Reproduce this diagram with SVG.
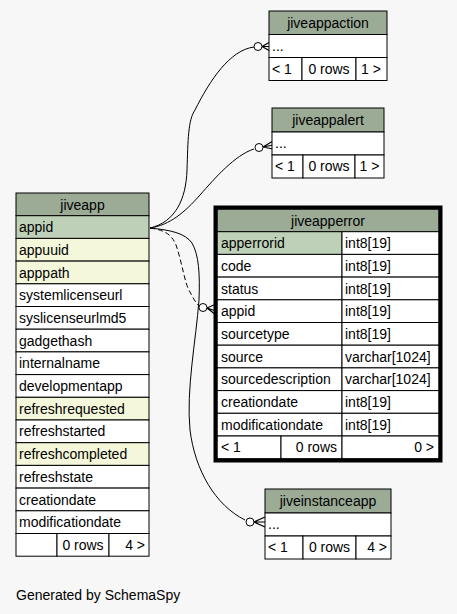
<svg xmlns="http://www.w3.org/2000/svg" width="457" height="614" viewBox="0 0 457 614">
<style>
text{font-family:"Liberation Sans",Arial,sans-serif;font-size:14px;fill:#000}
.c{text-anchor:middle}
.r{text-anchor:end}
rect{stroke:#000;stroke-width:1}
.h{fill:#9bab96}
.pk{fill:#bed1b8}
.ix{fill:#f4f7da}
.w{fill:#fff}
rect.frame{fill:none;stroke:#000;stroke-width:4}
.e{fill:none;stroke:#000;stroke-width:1}
.d{stroke-dasharray:5,3}
.o{fill:#fff;stroke:#000;stroke-width:1}
.cf{fill:none;stroke:#000;stroke-width:1.2}
</style>
<rect x="0" y="0" width="457" height="614" style="fill:#f7f7f7;stroke:none"/>

<g id="connectors">
<path class="e" d="M150,228 C175,222 186,200 187,170 C188,140 188,120 195,110 C210,80 230,50 254,47"/>
<circle class="o" cx="258" cy="46.5" r="4"/>
<path class="cf" d="M262,46.5 L270,42 M262,46.5 L270,46.5 M262,46.5 L270,51"/>

<path class="e" d="M150,228 C170,225 185,212 200,195 C215,178 235,155 254,149"/>
<circle class="o" cx="259" cy="147.5" r="4"/>
<path class="cf" d="M263,147 L273,141 M263,147 L273,145 M263,147 L273,149"/>

<path class="e d" d="M150,228 C165,230 172,235 176,245 C182,262 185,285 190,292 C193,298 196,303 199,306"/>
<circle class="o" cx="203" cy="307.5" r="4"/>
<path class="cf" d="M207,308 L216,304 M207,308 L216,311 M207,308 L216,315"/>

<path class="e" d="M150,228 C170,230 185,233 192,243 C199,255 200,275 199,300 C196,340 186,390 190,430 C195,470 215,505 245,520"/>
<circle class="o" cx="250" cy="522" r="4"/>
<path class="cf" d="M254,522 L265,517 M254,522 L265,522 M254,522 L265,527"/>
</g>

<g id="jiveappaction">
<rect class="h" x="269" y="11" width="118" height="23.5"/>
<text class="c" x="328" y="28">jiveappaction</text>
<rect class="w" x="269" y="34.5" width="118" height="23"/>
<text x="272" y="51">...</text>
<rect class="w" x="269" y="57.5" width="33" height="23"/>
<rect class="w" x="302" y="57.5" width="54" height="23"/>
<rect class="w" x="356" y="57.5" width="31" height="23"/>
<text x="272" y="74">&lt; 1</text>
<text class="c" x="329" y="74">0 rows</text>
<text class="c" x="371" y="74">1 &gt;</text>
</g>

<g id="jiveappalert">
<rect class="h" x="272" y="108" width="112" height="24"/>
<text class="c" x="328" y="125">jiveappalert</text>
<rect class="w" x="272" y="132" width="112" height="23"/>
<text x="275" y="148">...</text>
<rect class="w" x="272" y="155" width="31" height="23"/>
<rect class="w" x="303" y="155" width="52" height="23"/>
<rect class="w" x="355" y="155" width="29" height="23"/>
<text x="275" y="171">&lt; 1</text>
<text class="c" x="329" y="171">0 rows</text>
<text class="c" x="369.5" y="171">1 &gt;</text>
</g>

<g id="jiveapp">
<rect class="h" x="16" y="193" width="133" height="22.7"/>
<text class="c" x="82.5" y="210">jiveapp</text>
<rect class="pk" x="16" y="215.7" width="133" height="22.7"/>
<text x="19" y="232">appid</text>
<rect class="ix" x="16" y="238.4" width="133" height="22.7"/>
<text x="19" y="255">appuuid</text>
<rect class="ix" x="16" y="261.1" width="133" height="22.7"/>
<text x="19" y="277.5">apppath</text>
<rect class="w" x="16" y="283.8" width="133" height="22.7"/>
<text x="19" y="300">systemlicenseurl</text>
<rect class="w" x="16" y="306.5" width="133" height="22.7"/>
<text x="19" y="323">syslicenseurlmd5</text>
<rect class="w" x="16" y="329.2" width="133" height="22.7"/>
<text x="19" y="345.5">gadgethash</text>
<rect class="w" x="16" y="351.9" width="133" height="22.7"/>
<text x="19" y="368">internalname</text>
<rect class="w" x="16" y="374.6" width="133" height="22.7"/>
<text x="19" y="391">developmentapp</text>
<rect class="ix" x="16" y="397.3" width="133" height="22.7"/>
<text x="19" y="413.5">refreshrequested</text>
<rect class="w" x="16" y="420" width="133" height="22.7"/>
<text x="19" y="436">refreshstarted</text>
<rect class="ix" x="16" y="442.7" width="133" height="22.7"/>
<text x="19" y="459">refreshcompleted</text>
<rect class="w" x="16" y="465.4" width="133" height="22.7"/>
<text x="19" y="481.5">refreshstate</text>
<rect class="w" x="16" y="488.1" width="133" height="22.7"/>
<text x="19" y="504.5">creationdate</text>
<rect class="w" x="16" y="510.8" width="133" height="22.7"/>
<text x="19" y="527">modificationdate</text>
<rect class="w" x="16" y="533.5" width="41" height="22.7"/>
<rect class="w" x="57" y="533.5" width="52" height="22.7"/>
<rect class="w" x="109" y="533.5" width="40" height="22.7"/>
<text class="c" x="83" y="550">0 rows</text>
<text class="r" x="145" y="550">4 &gt;</text>
</g>

<g id="jiveapperror">
<rect class="h" x="217" y="209" width="222" height="22.7"/>
<text class="c" x="328" y="226">jiveapperror</text>
<rect class="pk" x="217" y="231.7" width="125" height="22.7"/>
<rect class="w" x="342" y="231.7" width="97" height="22.7"/>
<text x="221" y="248">apperrorid</text><text x="345" y="248">int8[19]</text>
<rect class="w" x="217" y="254.4" width="125" height="22.7"/>
<rect class="w" x="342" y="254.4" width="97" height="22.7"/>
<text x="221" y="271">code</text><text x="345" y="271">int8[19]</text>
<rect class="w" x="217" y="277.1" width="125" height="22.7"/>
<rect class="w" x="342" y="277.1" width="97" height="22.7"/>
<text x="221" y="293.5">status</text><text x="345" y="293.5">int8[19]</text>
<rect class="w" x="217" y="299.8" width="125" height="22.7"/>
<rect class="w" x="342" y="299.8" width="97" height="22.7"/>
<text x="221" y="316">appid</text><text x="345" y="316">int8[19]</text>
<rect class="w" x="217" y="322.5" width="125" height="22.7"/>
<rect class="w" x="342" y="322.5" width="97" height="22.7"/>
<text x="221" y="339">sourcetype</text><text x="345" y="339">int8[19]</text>
<rect class="w" x="217" y="345.2" width="125" height="22.7"/>
<rect class="w" x="342" y="345.2" width="97" height="22.7"/>
<text x="221" y="361.5">source</text><text x="345" y="361.5">varchar[1024]</text>
<rect class="w" x="217" y="367.9" width="125" height="22.7"/>
<rect class="w" x="342" y="367.9" width="97" height="22.7"/>
<text x="221" y="384">sourcedescription</text><text x="345" y="384">varchar[1024]</text>
<rect class="w" x="217" y="390.6" width="125" height="22.7"/>
<rect class="w" x="342" y="390.6" width="97" height="22.7"/>
<text x="221" y="407">creationdate</text><text x="345" y="407">int8[19]</text>
<rect class="w" x="217" y="413.3" width="125" height="22.7"/>
<rect class="w" x="342" y="413.3" width="97" height="22.7"/>
<text x="221" y="429.5">modificationdate</text><text x="345" y="429.5">int8[19]</text>
<rect class="w" x="217" y="436" width="64" height="22.7"/>
<rect class="w" x="281" y="436" width="61" height="22.7"/>
<rect class="w" x="342" y="436" width="97" height="22.7"/>
<text x="221" y="452">&lt; 1</text>
<text class="r" x="337" y="452">0 rows</text>
<text class="r" x="434" y="452">0 &gt;</text>
<rect class="frame" x="215.5" y="207.5" width="225" height="253"/>
</g>

<g id="jiveinstanceapp">
<rect class="h" x="265" y="489" width="126" height="24"/>
<text class="c" x="328" y="506">jiveinstanceapp</text>
<rect class="w" x="265" y="513" width="126" height="23"/>
<text x="268" y="529">...</text>
<rect class="w" x="265" y="536" width="38" height="23"/>
<rect class="w" x="303" y="536" width="53" height="23"/>
<rect class="w" x="356" y="536" width="35" height="23"/>
<text x="268" y="552">&lt; 1</text>
<text class="c" x="329.5" y="552">0 rows</text>
<text class="r" x="387" y="552">4 &gt;</text>
</g>

<text x="16" y="600">Generated by SchemaSpy</text>
</svg>
